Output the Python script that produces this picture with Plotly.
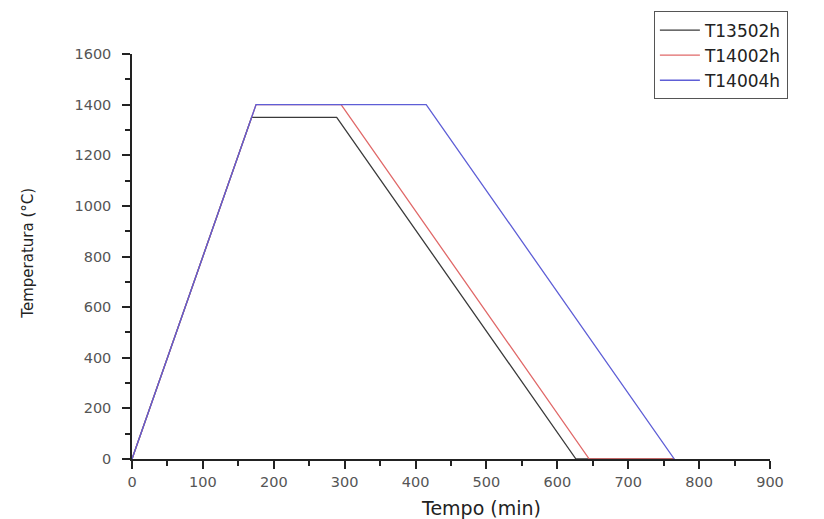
import plotly.graph_objects as go

names = ["T13502h", "T14002h", "T14004h"]
colors = ["#3a3a3a", "#e06868", "#5e5ed6"]
t_13502h = [0, 168.75, 288.75, 626.25, 765]
y_13502h = [0, 1350, 1350, 0, 0]
t_14002h = [0, 175, 295, 645, 765]
y_14002h = [0, 1400, 1400, 0, 0]
t_14004h = [0, 175, 415, 765]
y_14004h = [0, 1400, 1400, 0]

xs = [t_13502h, t_14002h, t_14004h]
ys = [y_13502h, y_14002h, y_14004h]

fig = go.Figure()
for n, c, x, y in zip(names, colors, xs, ys):
    fig.add_trace(go.Scatter(x=x, y=y, mode="lines", name=n,
                             line=dict(color=c, width=1.3), cliponaxis=False))

font = "DejaVu Sans, Arial, sans-serif"
axis_common = dict(showgrid=False, zeroline=False, showline=True, linecolor="#222",
                   linewidth=1.5, ticks="outside", ticklen=8, tickwidth=1.5,
                   tickcolor="#222", layer="below traces",
                   tickfont=dict(size=14.5, color="#555", family=font))
fig.update_layout(
    width=824, height=519,
    margin=dict(l=132, r=54, t=51, b=60),
    paper_bgcolor="white", plot_bgcolor="white",
    font=dict(family=font, color="#333"),
    showlegend=True,
    legend=dict(x=0.818, y=1.105, xanchor="left", yanchor="top",
                bordercolor="#555", borderwidth=1, bgcolor="white",
                font=dict(size=17, color="#222", family=font),
                tracegroupgap=0, itemwidth=40, entrywidth=160, entrywidthmode="pixels"),
    xaxis=dict(range=[0, 900], dtick=100, tick0=0, ticklabelstandoff=1,
               minor=dict(dtick=50, ticks="outside", ticklen=5, tickwidth=1.5,
                          tickcolor="#222", showgrid=False),
               **axis_common),
    yaxis=dict(range=[0, 1600], dtick=200, tick0=0, ticklabelstandoff=8,
               minor=dict(dtick=100, ticks="outside", ticklen=5, tickwidth=1.5,
                          tickcolor="#222", showgrid=False),
               **axis_common),
    annotations=[
        dict(text="Tempo (min)", xref="paper", yref="paper", x=0.547, y=-0.12,
             xanchor="center", yanchor="middle", showarrow=False,
             font=dict(size=19, color="#222", family=font)),
        dict(text="Temperatura (°C)", xref="paper", yref="paper", x=-0.163, y=0.507,
             xanchor="center", yanchor="middle", textangle=-90, showarrow=False,
             font=dict(size=15, color="#222", family=font)),
    ],
)

fig.write_html("out.html")
